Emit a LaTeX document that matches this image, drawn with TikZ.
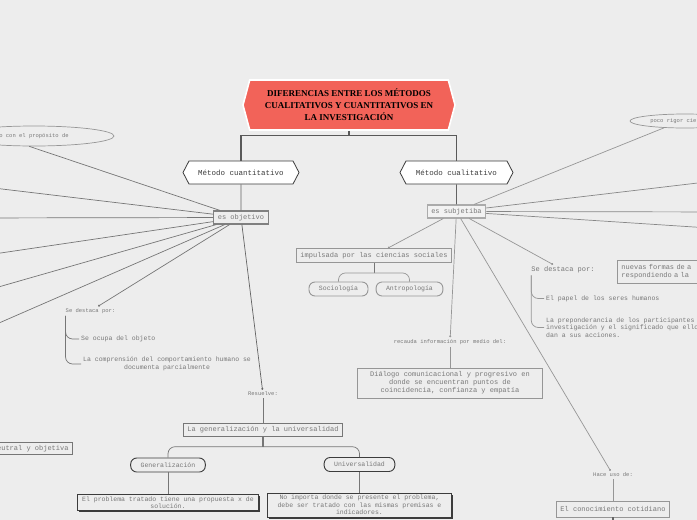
\documentclass[tikz,border=0pt]{standalone}
\usepackage{fontspec}
\setmainfont{Liberation Serif}
\setmonofont{Liberation Mono}
\usetikzlibrary{shapes.geometric,shapes.symbols,arrows.meta,positioning,shadows}
\definecolor{canvas}{RGB}{237,237,237}
\definecolor{salmon}{RGB}{242,99,89}
\definecolor{ink}{RGB}{60,60,60}
\definecolor{soft}{RGB}{120,120,120}
\definecolor{edge}{RGB}{150,150,150}
\definecolor{wire}{RGB}{135,135,135}
\newcommand{\mono}[2]{\fontsize{#1}{#2}\selectfont\ttfamily}

\begin{document}
\begin{tikzpicture}[x=1pt, y=-1pt,
        node distance=40pt,
        titlebox/.style={signal, signal to=east and west, signal pointer angle=150, draw=white, line width=1.6pt, fill=salmon, minimum width=212pt, minimum height=50pt, align=center, inner sep=1pt, font=\fontsize{9}{12}\selectfont\bfseries},
        hexa/.style={signal, signal to=east and west, signal pointer angle=125, draw=ink, line width=0.8pt, fill=white, minimum height=23pt, text=ink, font=\mono{7.5}{9}},
        topic/.style={rectangle, draw=edge!85!black, line width=1.1pt, fill=black!7, text=soft, minimum height=13pt, inner xsep=4pt, inner ysep=2pt, font=\mono{7}{8}},
        plainbox/.style={rectangle, draw=edge, line width=0.9pt, text=soft, inner xsep=4pt, inner ysep=3pt, align=center, font=\mono{7}{8}},
        pill/.style={rectangle, rounded corners=6pt, draw=edge, line width=0.9pt, text=soft, minimum height=14pt, inner xsep=10pt, inner ysep=2pt, font=\mono{6.5}{8}},
        darkpill/.style={pill, draw=ink},
        shadowbox/.style={rectangle, draw=ink, line width=0.8pt, fill=canvas, text=soft, align=center, inner ysep=2pt, font=\mono{6.5}{7.5}, drop shadow={shadow xshift=1.6pt, shadow yshift=-1.6pt, fill=ink, opacity=1}},
        bubble/.style={ellipse, draw=edge, line width=0.7pt, text=soft, inner sep=1pt, font=\mono{5.5}{7}},
        note/.style={text=soft, inner sep=2pt, font=\mono{5.5}{7}},
        link/.style={draw=wire, line width=0.7pt},
        pointer/.style={link, -{Circle[length=2pt]}},
        trunk/.style={draw=ink!85, line width=1.3pt},
        bracket/.style={draw=edge, line width=0.7pt, rounded corners=7pt}
    ]
    \fill [canvas] (0,0) rectangle (697,520);
    \clip (0,0) rectangle (697,520);
    % top of the map
    \node [titlebox] (title) at (349,105) {DIFERENCIAS ENTRE LOS MÉTODOS\\CUALITATIVOS Y CUANTITATIVOS EN\\LA INVESTIGACIÓN};
    \node [hexa, minimum width=116pt] (quant) at (241,172.5) {Método cuantitativo};
    \node [hexa, minimum width=113pt] (qual) at (456.5,172.5) {Método cualitativo};
    \path [trunk] (title.south) -- ++(0,5) coordinate (fork) -| (quant.north);
    \path [trunk] (fork) -| (qual.north);

    % quantitative side
    \node [topic] (objetivo) at (241,217.5) {es objetivo};
    \path [link, draw=ink!80] (quant) -- (objetivo);
    \node [bubble, minimum width=160pt, minimum height=20pt] (proposito) at (34,136) {o con el propósito de};
    \coordinate (qa) at (-40,184);
    \coordinate (qb) at (-40,218);
    \coordinate (qc) at (-40,259);
    \coordinate (qd) at (-40,298);
    \coordinate (qe) at (-40,340);
    \path [link, draw=ink!70] (proposito.245) -- (objetivo);
    \path [link, draw=ink!70] (qa) -- (objetivo);
    \path [link, draw=ink!70] (qb) -- (objetivo);
    \path [link, draw=ink!70] (qc) -- (objetivo);
    \path [link, draw=ink!70] (qd) -- (objetivo);
    \path [link, draw=ink!70] (qe) -- (objetivo);
    \node [note] (destacaL) at (90.5,311) {Se destaca por:};
    \path [pointer, draw=ink!70] (objetivo) -- (destacaL);
    \node [note, anchor=west, font=\mono{6.5}{8}] (ocupa) at (79,339) {Se ocupa del objeto};
    \node [note, anchor=west, align=center, font=\mono{6.5}{8}] (comprension) at (81,364) {La comprensión del comportamiento humano se\\documenta parcialmente};
    \path [bracket, draw=ink!70] ([xshift=2pt]destacaL.south west) |- (ocupa.west);
    \path [bracket, draw=ink!70] ([xshift=2pt]destacaL.south west) |- (comprension.west);
    \node [plainbox, anchor=east, draw=ink!70] (neutral) at (73,448.5) {neutral y objetiva};

    \node [note] (resuelve) at (263,394) {Resuelve:};
    \path [pointer, draw=ink!80] (objetivo) -- (resuelve);
    \node [plainbox, below of=resuelve, node distance=36pt, draw=ink!70] (universo) {La generalización y la universalidad};
    \path [link, draw=ink!70] (resuelve) -- (universo);
    \path [trunk, draw=ink!70] (universo.south) -- ++(0,10) coordinate (split);
    \node [darkpill] (generaliz) at (168,465) {Generalización};
    \node [darkpill] (universal) at (359.5,464.5) {Universalidad};
    \path [bracket, draw=ink!70] (split) -| (generaliz.north);
    \path [bracket, draw=ink!70] (split) -| (universal.north);
    \node [shadowbox, below of=generaliz, node distance=37.5pt, minimum width=181pt] (problema) {El problema tratado tiene una propuesta x de\\solución.};
    \node [shadowbox, below of=universal, node distance=40.5pt, minimum width=184pt] (noimporta) {No importa donde se presente el problema,\\debe ser tratado con las mismas premisas e\\indicadores.};
    \path [link, draw=ink!70] (generaliz) -- (problema);
    \path [link, draw=ink!70] (universal) -- (noimporta);

    % qualitative side
    \node [topic, draw=edge!80, fill=black!5] (subjetiba) at (456.5,211.5) {es subjetiba};
    \path [link, draw=ink!80] (qual) -- (subjetiba);
    \node [bubble, minimum width=110pt, minimum height=14pt] (rigor) at (685,121) {poco rigor científico};
    \coordinate (ra) at (740,178);
    \coordinate (rb) at (740,212);
    \coordinate (rc) at (740,230);
    \path [link, draw=edge] (subjetiba) -- (rigor.198);
    \path [link] (subjetiba) -- (ra);
    \path [link] (subjetiba) -- (rb);
    \path [link] (subjetiba) -- (rc);

    \node [plainbox, minimum height=14pt, inner ysep=2pt] (impulsada) at (374,255.5) {impulsada por las ciencias sociales};
    \path [pointer, draw=edge] (subjetiba) -- (impulsada);
    \node [pill] (socio) at (338.5,289) {Sociología};
    \node [pill] (antro) at (409.5,289) {Antropología};
    \path [trunk, draw=ink!70, line width=1pt] (impulsada.south) -- ++(0,10) coordinate (twig);
    \path [bracket] (twig) -| (socio.north);
    \path [bracket] (twig) -| (antro.north);

    \node [note] (recauda) at (450,342) {recauda información por medio del:};
    \path [pointer, draw=edge] (subjetiba) -- (recauda);
    \node [plainbox, below of=recauda, node distance=41pt, minimum width=185pt, minimum height=30pt] (dialogo) {Diálogo comunicacional y progresivo en\\donde se encuentran puntos de\\coincidencia, confianza y empatía};
    \path [link, draw=edge, line width=1pt] (recauda) -- (dialogo);

    \node [note, font=\mono{7}{8}] (destacaR) at (563,270) {Se destaca por:};
    \path [pointer, draw=edge] (subjetiba) -- (destacaR);
    \node [note, anchor=west, font=\mono{6.5}{8}] (papel) at (544,298.5) {El papel de los seres humanos};
    \node [note, anchor=west, align=left, font=\mono{6.5}{7.5}] (prepondera) at (544,327.5) {La preponderancia de los participantes en la\\investigación y el significado que ellos\\dan a sus acciones.};
    \path [bracket] ([xshift=2pt]destacaR.south west) |- (papel.west);
    \path [bracket] ([xshift=2pt]destacaR.south west) |- (prepondera.west);
    \node [plainbox, anchor=west, align=left, text width=110pt, minimum height=23pt] (nuevas) at (617,271.5) {nuevas formas de a\\respondiendo a la};

    \node [note] (haceuso) at (613,475) {Hace uso de:};
    \path [pointer, draw=edge] (subjetiba) -- (haceuso);
    \node [plainbox, below of=haceuso, node distance=34pt, minimum height=16pt, inner ysep=2pt] (cotidiano) {El conocimiento cotidiano};
    \coordinate (cotidianoend) at (613,560);
    \path [link, draw=edge, line width=1pt] (haceuso) -- (cotidiano);
    \path [trunk, draw=ink!80] (cotidiano) -- (cotidianoend);
\end{tikzpicture}
\end{document}
